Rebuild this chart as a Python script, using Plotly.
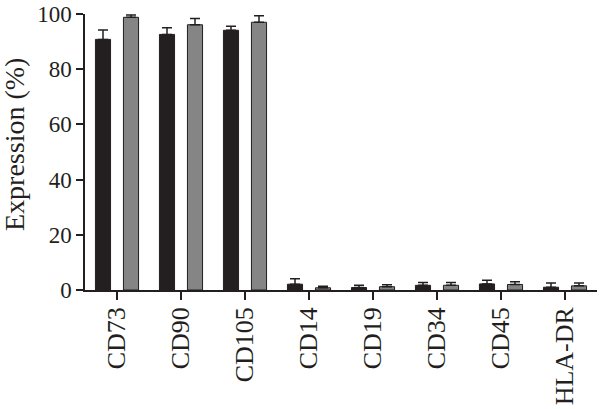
import plotly.graph_objects as go

categories = ["CD73", "CD90", "CD105", "CD14", "CD19", "CD34", "CD45", "HLA-DR"]
series1_values = [90.8, 92.6, 94.1, 2.1, 0.9, 1.7, 2.2, 1.0]
series1_errors = [3.4, 2.4, 1.5, 2.0, 0.8, 1.0, 1.3, 1.5]
series2_values = [98.8, 96.1, 97.0, 0.8, 1.2, 1.7, 2.0, 1.5]
series2_errors = [0.8, 2.3, 2.4, 0.6, 0.7, 1.0, 1.0, 1.0]
y_ticks = [0, 20, 40, 60, 80, 100]
y_title = "Expression (%)"

ink = "#231f20"
font_family = "Liberation Serif, Times New Roman, serif"

fig = go.Figure()
fig.add_trace(go.Bar(
    x=categories, y=series1_values,
    marker=dict(color=ink, line=dict(color=ink, width=1)),
    error_y=dict(type="data", array=series1_errors, arrayminus=[0]*len(categories),
                 symmetric=False, color=ink, thickness=1.5, width=5),
    showlegend=False,
))
fig.add_trace(go.Bar(
    x=categories, y=series2_values,
    marker=dict(color="#858585", line=dict(color=ink, width=1)),
    error_y=dict(type="data", array=series2_errors, arrayminus=[0]*len(categories),
                 symmetric=False, color=ink, thickness=1.5, width=5),
    showlegend=False,
))

fig.update_layout(
    width=600, height=409,
    margin=dict(l=85, r=3, t=14, b=119),
    paper_bgcolor="white", plot_bgcolor="white",
    barmode="group", bargap=0.125, bargroupgap=0.46,
    font=dict(family=font_family, size=23, color=ink),
)
fig.add_annotation(
    text=y_title, xref="paper", yref="paper", x=0, y=0.5,
    xanchor="center", yanchor="middle", xshift=-71, yshift=7,
    textangle=-90, showarrow=False,
    font=dict(family=font_family, size=28, color=ink),
)
fig.update_xaxes(
    range=[-0.5, 7.5], showline=True, linecolor=ink, linewidth=1.5,
    ticks="outside", ticklen=8, tickwidth=1.5, tickcolor=ink,
    tickangle=-90, showgrid=False, zeroline=False, automargin=False,
    ticklabeloverflow="allow", ticklabelstandoff=-3,
    tickfont=dict(family=font_family, size=26, color=ink),
)
fig.update_yaxes(
    range=[0, 100], tickvals=y_ticks, showline=True, linecolor=ink, linewidth=1.5,
    ticks="outside", ticklen=7, tickwidth=1.5, tickcolor=ink,
    showgrid=False, zeroline=False, automargin=False,
    ticklabeloverflow="allow",
    tickfont=dict(family=font_family, size=23, color=ink),
)

fig.write_html("out.html", config={"displayModeBar": False},
               post_script="document.body.style.margin='0';")
